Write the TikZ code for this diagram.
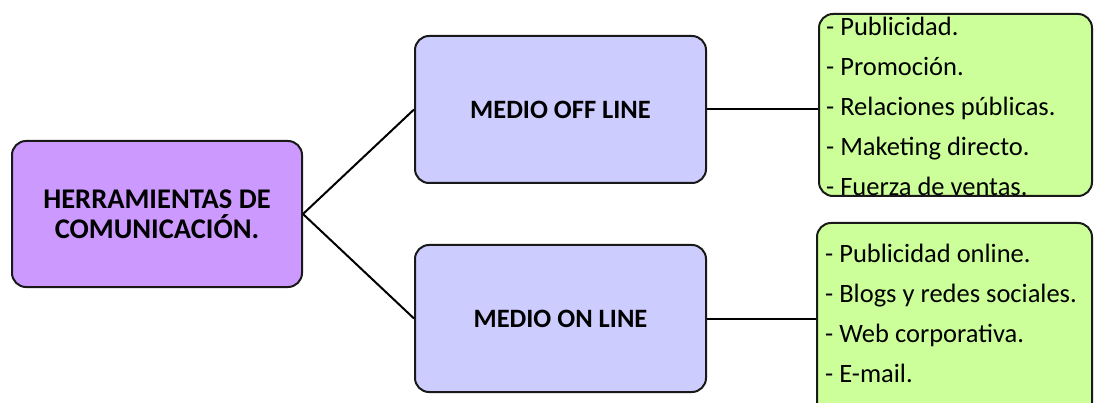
\documentclass[tikz,border=0pt]{standalone}
\usepackage{fontspec}
\setmainfont{Carlito}
\usetikzlibrary{calc}
\definecolor{rootfill}{HTML}{CC99FF}
\definecolor{mediofill}{HTML}{CCCCFF}
\definecolor{listfill}{HTML}{CCFF99}
\tikzset{
  box/.style={draw=black!90, line width=2pt, rounded corners=14pt, inner sep=0pt},
  rootbox/.style={box, fill=rootfill, minimum width=290pt, minimum height=146pt,
    align=center, font=\bfseries\fontsize{28.5}{30}\selectfont},
  mediobox/.style={box, fill=mediofill, minimum width=291pt, minimum height=147pt,
    font=\bfseries\fontsize{26.5}{30}\selectfont},
  listbox/.style={box, fill=listfill},
  item/.style={anchor=base west, inner sep=0pt, font=\fontsize{26.5}{30}\selectfont},
  link/.style={line width=2pt}
}

\begin{document}
\begin{tikzpicture}[x=1pt,y=-1pt]
  \clip (0,0) rectangle (1094,403);
  % ramas principales
  \node[rootbox] (herr) at (157,214) {HERRAMIENTAS DE\\COMUNICACIÓN.};
  \node[mediobox] (off) at (560.5,109.5) {MEDIO OFF LINE};
  \node[mediobox] (on) at (560.5,318.5) {MEDIO ON LINE};
  % listas
  \node[listbox, minimum width=273pt, minimum height=182pt] (offlist) at (955.5,105) {};
  \node[listbox, minimum width=275pt, minimum height=200pt] (onlist) at (954.5,323) {};
  \foreach \t [count=\i from 0] in {- Publicidad., - Promoción., - Relaciones públicas.,
      - Maketing directo., - Fuerza de ventas.}
    \node[item] (offitem\i) at (826,{36+40*\i}) {\t};
  \foreach \t [count=\i from 0] in {- Publicidad online., - Blogs y redes sociales.,
      - Web corporativa., - E-mail.}
    \node[item] (onitem\i) at (825,{262+40*\i}) {\t};
  % conectores
  \draw[link] (herr.east) -- (off.west);
  \draw[link] (herr.east) -- (on.west);
  \draw[link] (off.east) -- (off.east -| offlist.west);
  \draw[link] (on.east) -- (on.east -| onlist.west);
\end{tikzpicture}
\end{document}
